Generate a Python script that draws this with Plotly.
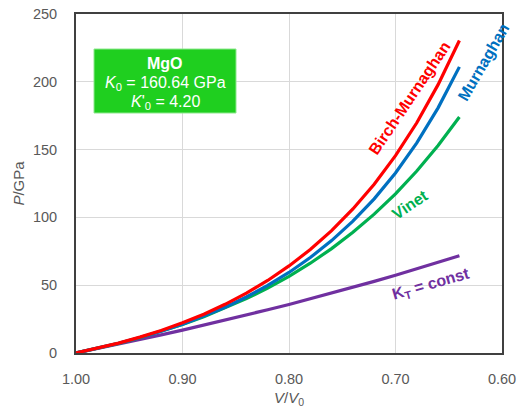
import plotly.graph_objects as go

# V/V0 sample points
v_ratio = [1.00, 0.98, 0.96, 0.94, 0.92, 0.90, 0.88, 0.86, 0.84, 0.82, 0.80,
           0.78, 0.76, 0.74, 0.72, 0.70, 0.68, 0.66, 0.64]

# Pressures (GPa)
p_birch = [0.0, 3.4, 7.3, 11.7, 16.6, 22.3, 28.6, 35.9, 44.1, 53.5, 64.2,
           76.3, 90.2, 106.2, 124.5, 145.5, 169.8, 197.9, 230.5]
p_murnaghan = [0.0, 3.4, 7.2, 11.4, 16.0, 21.3, 27.2, 33.8, 41.3, 49.8, 59.4,
               70.4, 82.9, 97.2, 113.7, 132.8, 155.0, 180.8, 211.0]
p_vinet = [0.0, 3.4, 7.1, 11.3, 15.9, 21.1, 26.7, 33.1, 40.1, 47.9, 56.5,
           66.2, 77.0, 89.0, 102.4, 117.4, 134.2, 153.0, 174.1]
p_kt = [0.0, 3.2, 6.6, 9.9, 13.4, 16.9, 20.5, 24.2, 28.0, 31.9, 35.8,
        39.9, 44.1, 48.4, 52.8, 57.3, 62.0, 66.7, 71.7]

x_ticks = [1.00, 0.90, 0.80, 0.70, 0.60]
x_tick_labels = ["1.00", "0.90", "0.80", "0.70", "0.60"]
y_ticks = [0, 50, 100, 150, 200, 250]

series = [
    ("Birch-Murnaghan", p_birch, "#FF0000"),
    ("Murnaghan", p_murnaghan, "#0070C0"),
    ("Vinet", p_vinet, "#00B050"),
    ("KT = const", p_kt, "#7030A0"),
]

fig = go.Figure()
for name, ys, col in reversed(series):
    fig.add_trace(go.Scatter(x=v_ratio, y=ys, mode="lines", name=name,
                             line=dict(color=col, width=3.2)))

font = "Liberation Sans, Arial, sans-serif"
PL, PR, PT, PB = 76, 502, 14, 353  # plot-area edges in page pixels
W, H = 517, 408
fig.update_layout(
    width=W, height=H,
    margin=dict(l=PL, r=W - PR, t=PT, b=H - PB),
    paper_bgcolor="white", plot_bgcolor="white",
    showlegend=False,
    font=dict(family=font, size=15, color="#595959"),
)
fig.update_xaxes(range=[1.0, 0.6], tickvals=x_ticks, ticktext=x_tick_labels,
                 showgrid=True, gridcolor="#D9D9D9", gridwidth=1,
                 showline=True, linecolor="#404040", linewidth=2, mirror=True,
                 zeroline=False, ticks="", ticklabelstandoff=12, automargin=False,
                 ticklabeloverflow="allow", tickfont=dict(size=14.5),
                 title=dict(text="<i>V</i>/<i>V</i><sub>0</sub>", standoff=10,
                            font=dict(size=15, color="#595959")))
fig.update_yaxes(range=[0, 250], tickvals=y_ticks,
                 showgrid=True, gridcolor="#D9D9D9", gridwidth=1,
                 showline=True, linecolor="#404040", linewidth=2, mirror=True,
                 zeroline=False, ticks="", ticklabelstandoff=14, automargin=False,
                 ticklabeloverflow="allow", tickfont=dict(size=14.5),
                 title=dict(text="<i>P</i>/GPa", standoff=5,
                            font=dict(size=15, color="#595959")))

# Curve labels and box placed in plot-area pixel terms via paper coords
def px(xp):
    return (xp - PL) / float(PR - PL)

def py(yp):
    return (PB - yp) / float(PB - PT)

# Green info box
fig.add_shape(type="rect", xref="paper", yref="paper",
              x0=px(94), x1=px(236), y0=py(113), y1=py(49),
              fillcolor="#1FCF1F", line=dict(color="#8EE88E", width=1))
box_lines = [
    ("<b>MgO</b>", 63),
    ("<i>K</i><sub>0</sub> = 160.64 GPa", 83),
    ("<i>K</i>'<sub>0</sub> = 4.20", 102),
]
for txt, yy in box_lines:
    fig.add_annotation(text=txt, xref="paper", yref="paper", x=px(165), y=py(yy),
                       showarrow=False, xanchor="center", yanchor="middle",
                       font=dict(family=font, size=16, color="white"))

labels = [
    ("<b>Birch-Murnaghan</b>", 409, 98, -56, "#FF0000"),
    ("<b>Murnaghan</b>", 483, 62, -60, "#0070C0"),
    ("<b>Vinet</b>", 410, 204, -34, "#00B050"),
    ("<b>K<sub>T</sub> = const</b>", 431, 284, -16, "#7030A0"),
]
for txt, xx, yy, ang, col in labels:
    fig.add_annotation(text=txt, xref="paper", yref="paper", x=px(xx), y=py(yy),
                       showarrow=False, xanchor="center", yanchor="middle",
                       textangle=ang,
                       font=dict(family=font, size=16, color=col))

fig.write_html(
    "out.html",
    config={"displayModeBar": False},
    post_script="document.body.style.margin='0px';"
                "document.documentElement.style.overflow='hidden';",
)
